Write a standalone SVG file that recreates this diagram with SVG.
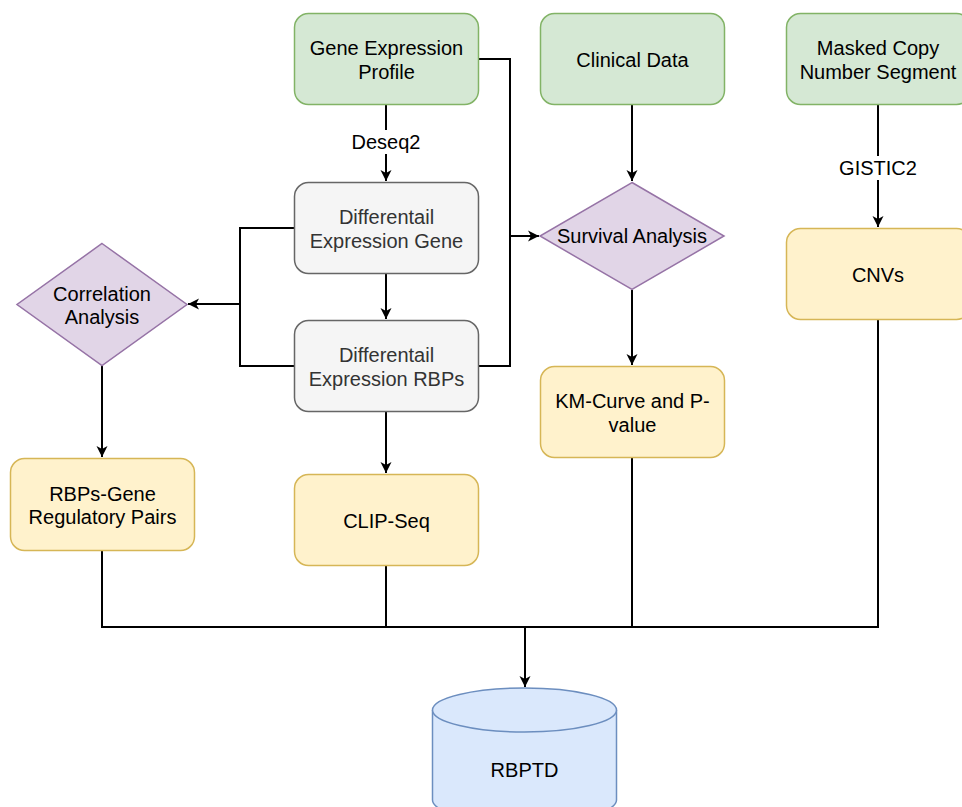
<svg xmlns="http://www.w3.org/2000/svg" width="962" height="807" viewBox="0 0 962 807">
<style>
text{font-family:"Liberation Sans",Arial,sans-serif;font-size:20px;text-anchor:middle;fill:#000}
.g{fill:#d5e8d4;stroke:#82b366;stroke-width:1.5}
.gr{fill:#f5f5f5;stroke:#666666;stroke-width:1.5}
.p{fill:#e1d5e7;stroke:#9673a6;stroke-width:1.5}
.y{fill:#fff2cc;stroke:#d6b656;stroke-width:1.5}
.b{fill:#dae8fc;stroke:#6c8ebf;stroke-width:1.5}
.dk{fill:#333333}
.c{fill:none;stroke:#000;stroke-width:2}
.a{marker-end:url(#arr)}
.lbl{fill:#fff}
</style>
<defs>
<marker id="arr" markerWidth="12" markerHeight="12" viewBox="0 0 12 12" refX="11" refY="6" orient="auto" markerUnits="userSpaceOnUse">
<path d="M0,0.5 L11,6 L0,11.5 L3,6 Z" fill="#000"/>
</marker>
</defs>
<rect width="962" height="807" fill="#fff"/>
<g id="connectors">
<path class="c a" d="M386,105 V181"/>
<rect class="lbl" x="340" y="130" width="92" height="24"/>
<text x="386" y="149">Deseq2</text>
<path class="c a" d="M479,59 H510 V236 H539"/>
<path class="c" d="M479,366 H510 V236"/>
<path class="c a" d="M294,228 H240 V304 H188"/>
<path class="c" d="M294,366 H240 V304"/>
<path class="c a" d="M386,273 V319"/>
<path class="c a" d="M102,366 V457"/>
<path class="c a" d="M386,412 V473"/>
<path class="c a" d="M632,105 V181"/>
<path class="c a" d="M632,290 V365"/>
<path class="c a" d="M878,105 V227"/>
<rect class="lbl" x="832" y="156" width="92" height="24"/>
<text x="878" y="175">GISTIC2</text>
<path class="c" d="M102,551 V627 H878 V320"/>
<path class="c" d="M386,565 V627"/>
<path class="c" d="M632,458 V627"/>
<path class="c a" d="M525,627 V687"/>
</g>
<g id="gene-expression-profile">
<rect class="g" x="294.5" y="13.5" width="184" height="91" rx="14"/>
<text x="386.5" y="55">Gene Expression</text>
<text x="386.5" y="79">Profile</text>
</g>
<g id="clinical-data">
<rect class="g" x="540.5" y="13.5" width="184" height="91" rx="14"/>
<text x="632.5" y="67">Clinical Data</text>
</g>
<g id="masked-copy-number">
<rect class="g" x="786.5" y="13.5" width="184" height="91" rx="14"/>
<text x="878" y="55">Masked Copy</text>
<text x="878" y="79">Number Segment</text>
</g>
<g id="deg">
<rect class="gr" x="294.5" y="182.5" width="184" height="91" rx="14"/>
<text class="dk" x="386.5" y="224">Differentail</text>
<text class="dk" x="386.5" y="248">Expression Gene</text>
</g>
<g id="rbps">
<rect class="gr" x="294.5" y="320.5" width="184" height="91" rx="14"/>
<text class="dk" x="386.5" y="362">Differentail</text>
<text class="dk" x="386.5" y="386">Expression RBPs</text>
</g>
<g id="correlation-analysis">
<path class="p" d="M102,243.5 L187,304.5 L102,365.5 L17,304.5 Z"/>
<text x="102" y="301">Correlation</text>
<text x="102" y="324">Analysis</text>
</g>
<g id="survival-analysis">
<path class="p" d="M632,182.5 L724,236 L632,289.5 L540,236 Z"/>
<text x="632" y="243">Survival Analysis</text>
</g>
<g id="km-curve">
<rect class="y" x="540.5" y="366.5" width="184" height="91" rx="14"/>
<text x="632.5" y="408">KM-Curve and P-</text>
<text x="632.5" y="432">value</text>
</g>
<g id="cnvs">
<rect class="y" x="786.5" y="228.5" width="184" height="91" rx="14"/>
<text x="878" y="282">CNVs</text>
</g>
<g id="rbps-gene-pairs">
<rect class="y" x="10.5" y="458.5" width="184" height="92" rx="14"/>
<text x="102.5" y="501">RBPs-Gene</text>
<text x="102.5" y="524">Regulatory Pairs</text>
</g>
<g id="clip-seq">
<rect class="y" x="294.5" y="474.5" width="184" height="91" rx="14"/>
<text x="386.5" y="528">CLIP-Seq</text>
</g>
<g id="rbptd">
<path class="b" d="M432.5,710 A92,22 0 0 1 616.5,710 V800 A92,22 0 0 1 432.5,800 Z"/>
<path class="b" fill="none" d="M432.5,710 A92,22 0 0 0 616.5,710"/>
<text x="524.5" y="777">RBPTD</text>
</g>
</svg>
